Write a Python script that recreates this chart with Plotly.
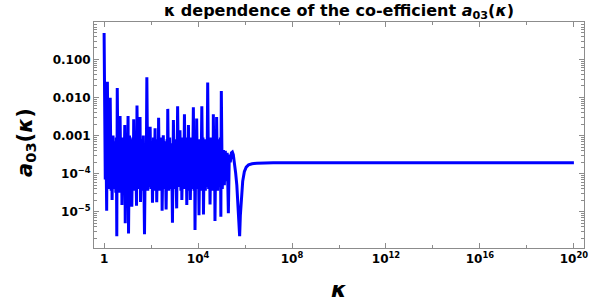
import numpy as np
import plotly.graph_objects as go

# log10(kappa) and log10(a03)
log10_kappa = [
    0.00, 0.05, 0.08, 0.11, 0.14, 0.18, 0.22, 0.24, 0.26, 0.30, 0.32, 0.34, 0.38, 0.42, 0.46, 0.50,
    0.52, 0.54, 0.56, 0.60, 0.64, 0.66, 0.68, 0.72, 0.74, 0.76, 0.80, 0.84, 0.88, 0.90, 0.94, 0.98,
    1.02, 1.04, 1.08, 1.12, 1.15, 1.18, 1.22, 1.24, 1.26, 1.30, 1.34, 1.38, 1.40, 1.44, 1.48, 1.50,
    1.53, 1.55, 1.59, 1.63, 1.67, 1.72, 1.76, 1.79, 1.82, 1.86, 1.90, 1.93, 1.96, 2.00, 2.03, 2.06,
    2.10, 2.13, 2.17, 2.20, 2.22, 2.24, 2.28, 2.30, 2.32, 2.36, 2.40, 2.43, 2.45, 2.47, 2.52, 2.56,
    2.60, 2.64, 2.68, 2.69, 2.71, 2.75, 2.79, 2.83, 2.87, 2.91, 2.95, 2.99, 3.03, 3.09, 3.13, 3.17,
    3.23, 3.27, 3.29, 3.31, 3.36, 3.39, 3.42, 3.46, 3.49, 3.52, 3.56, 3.57, 3.59, 3.63, 3.65, 3.67,
    3.72, 3.76, 3.80, 3.83, 3.85, 3.87, 3.91, 3.92, 3.94, 3.98, 4.01, 4.04, 4.08, 4.12, 4.16, 4.20,
    4.21, 4.23, 4.27, 4.31, 4.35, 4.38, 4.41, 4.45, 4.48, 4.51, 4.55, 4.59, 4.62, 4.64, 4.65, 4.69,
    4.70, 4.72, 4.76, 4.77, 4.79, 4.83, 4.87, 4.91, 4.95, 4.97, 4.99, 5.03, 5.08, 5.12, 5.16, 5.20,
    5.24, 5.29, 5.33, 5.37,
    5.42, 5.46, 5.50, 5.55, 5.60, 5.65, 5.70, 5.74, 5.77, 5.80, 5.84, 5.90, 5.97, 6.05, 6.15, 6.30,
    6.50, 6.80, 7.20, 8.00, 12.0, 16.0, 20.0,
]
log10_a03 = [
    -0.31, -4.15, -3.20, -4.97, -1.59, -4.40, -3.10, -4.30, -2.01, -4.45, -3.05, -4.69, -3.00, -4.40, -3.15, -4.50,
    -3.05, -5.64, -1.75, -4.35, -3.10, -4.50, -2.49, -4.40, -3.20, -4.82, -3.05, -4.45, -2.72, -5.30, -3.15, -4.35,
    -2.49, -5.57, -3.00, -4.40, -3.10, -4.87, -3.05, -4.40, -2.57, -4.45, -3.10, -4.84, -2.21, -4.40, -3.05, -4.30,
    -2.51, -4.74, -3.10, -4.45, -3.00, -5.59, -3.20, -4.40, -1.47, -4.45, -3.10, -4.35, -2.77, -4.40, -3.15, -4.76,
    -3.05, -4.45, -2.81, -4.35, -3.10, -4.75, -3.20, -4.40, -2.53, -4.45, -3.10, -4.35, -3.05, -4.97, -2.99, -4.40,
    -3.15, -4.94, -3.10, -4.35, -2.30, -4.45, -3.05, -4.40, -3.20, -5.29, -2.59, -4.40, -3.10, -4.91, -2.23, -4.35,
    -2.86, -4.45, -3.05, -4.69, -3.15, -4.40, -2.44, -4.35, -3.10, -4.82, -3.05, -4.40, -2.72, -4.45, -3.20, -4.69,
    -3.05, -4.40, -2.26, -4.45, -3.10, -5.48, -3.05, -4.35, -2.55, -4.40, -3.15, -5.09, -3.10, -4.45, -2.23, -4.40,
    -3.05, -5.07, -3.10, -4.45, -3.20, -4.35, -1.61, -4.40, -3.15, -4.81, -3.05, -4.45, -3.10, -4.35, -2.44, -4.40,
    -3.20, -5.24, -3.05, -4.40, -2.51, -4.45, -3.10, -4.35, -3.05, -5.13, -1.83, -4.40, -3.38, -4.30, -3.40, -4.20,
    -3.45, -5.04, -3.50, -3.70,
    -3.45, -3.43, -3.50, -3.70, -3.98, -4.30, -4.75, -5.25, -5.64, -5.10, -4.60, -4.20, -3.95, -3.83, -3.77, -3.74,
    -3.725, -3.717, -3.714, -3.714, -3.714, -3.714, -3.714,
]

kappa = np.power(10.0, log10_kappa)
a03 = np.power(10.0, log10_a03)

x_tickvals = [1, 1e4, 1e8, 1e12, 1e16, 1e20]
x_ticktext = ["<b>1</b>", "<b>10<sup>4</sup></b>", "<b>10<sup>8</sup></b>",
              "<b>10<sup>12</sup></b>", "<b>10<sup>16</sup></b>", "<b>10<sup>20</sup></b>"]
x_minor = [1e2, 1e6, 1e10, 1e14, 1e18]
y_tickvals = [1e-1, 1e-2, 1e-3, 1e-4, 1e-5]
y_ticktext = ["<b>0.100</b>", "<b>0.010</b>", "<b>0.001</b>",
              "<b>10<sup>−4</sup></b>", "<b>10<sup>−5</sup></b>"]
y_minor = [m * 10.0 ** e for e in range(-6, 0) for m in range(2, 10)]

font = "DejaVu Sans, Verdana, sans-serif"
frame = "#8c8c8c"

W, H = 590, 307
L, R, T, B = 94, 6, 22, 59
pw, ph = W - L - R, H - T - B

fig = go.Figure()
fig.add_trace(go.Scatter(x=kappa, y=a03, mode="lines",
                         line=dict(color="#0000ff", width=3), showlegend=False))

fig.update_layout(
    width=W, height=H,
    margin=dict(l=L, r=R, t=T, b=B, autoexpand=False),
    paper_bgcolor="white", plot_bgcolor="white",
    font=dict(family=font, size=12, color="black"),
    title=dict(text="<b>κ dependence of the co-efficient <i>a</i><sub>03</sub>(<i>κ</i>)</b>",
               x=0.5, xref="paper", xanchor="center", y=1 - 10 / H, yref="container", yanchor="middle",
               font=dict(size=16, family=font)),
    xaxis=dict(type="log", range=[-0.43, 20.43], showgrid=False, zeroline=False,
               showline=True, linecolor=frame, linewidth=1, mirror="ticks",
               ticks="inside", ticklen=5, tickcolor=frame,
               tickvals=x_tickvals, ticktext=x_ticktext,
               tickfont=dict(size=12, family=font),
               minor=dict(tickvals=x_minor, ticks="inside", ticklen=3, tickcolor=frame, showgrid=False)),
    yaxis=dict(type="log", range=[-5.95, -0.02], showgrid=False, zeroline=False,
               showline=True, linecolor=frame, linewidth=1, mirror="ticks",
               ticks="inside", ticklen=5, tickcolor=frame,
               tickvals=y_tickvals, ticktext=y_ticktext,
               tickfont=dict(size=12, family=font),
               minor=dict(tickvals=y_minor, ticks="inside", ticklen=3, tickcolor=frame, showgrid=False)),
    annotations=[
        dict(text="<b><i>κ</i></b>", x=0.5, xref="paper", y=-(289 - (H - B)) / ph, yref="paper",
             xanchor="center", yanchor="middle", showarrow=False, font=dict(size=22, family=font)),
        dict(text="<b><i>a</i><sub>03</sub>(<i>κ</i>)</b>", x=-(L - 26) / pw, xref="paper",
             y=0.5 - 8 / ph, yref="paper",
             xanchor="center", yanchor="middle", showarrow=False, textangle=-90,
             font=dict(size=21, family=font)),
    ],
)

fig.write_html("out.html", config={"displayModeBar": False},
               post_script="document.body.style.margin='0';document.body.style.overflow='hidden';")
